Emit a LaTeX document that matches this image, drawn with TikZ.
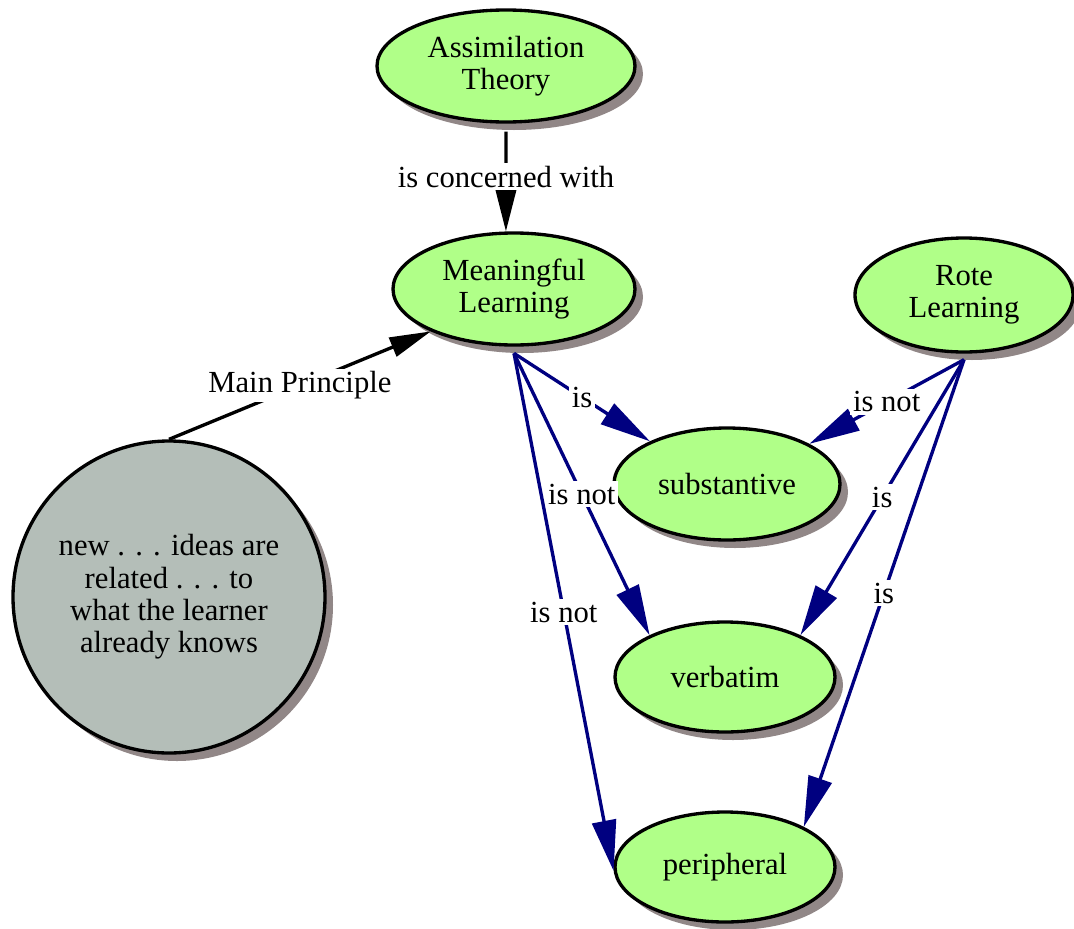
\documentclass[tikz,border=0pt]{standalone}
\usepackage{fontspec}
\setmainfont{Liberation Serif}
\usetikzlibrary{shapes.geometric,shadows,arrows.meta}
\definecolor{conceptgreen}{RGB}{176,255,136}
\definecolor{ideagray}{RGB}{180,190,184}
\definecolor{shadowgray}{RGB}{145,135,135}
\definecolor{linknavy}{RGB}{0,0,128}
\begin{document}
\begin{tikzpicture}[x=0.75pt, y=-0.75pt,
        every node/.style={font=\fontsize{23}{24.2}\selectfont},
        concept/.style={ellipse, draw, line width=2.5pt, fill=conceptgreen, align=center, inner sep=0pt,
            drop shadow={shadow xshift=6pt, shadow yshift=-6pt, fill=shadowgray, opacity=1}},
        idea/.style={circle, draw, line width=2.5pt, fill=ideagray, align=center, inner sep=0pt,
            minimum size=234pt,
            drop shadow={shadow xshift=6pt, shadow yshift=-6pt, fill=shadowgray, opacity=1}},
        mainlink/.style={line width=2.5pt, -{Triangle[length=31pt, width=15pt]}},
        link/.style={line width=2.5pt, draw=linknavy, -{Triangle[length=38pt, width=18pt]}, fill=linknavy},
        linklabel/.style={fill=white, inner sep=2pt}]
        \useasboundingbox (0, 0) rectangle (1074, 928);
        \node[concept, minimum width=193.5pt, minimum height=84pt] (at) at (506, 66) {Assimilation\\Theory};
        \node[concept, minimum width=181.5pt, minimum height=84pt] (ml) at (514, 289) {Meaningful\\Learning};
        \node[concept, minimum width=163.5pt, minimum height=85.5pt] (rl) at (964, 295) {Rote\\Learning};
        \node[concept, minimum width=169.5pt, minimum height=84pt] (sub) at (727, 484) {substantive};
        \node[concept, minimum width=165pt, minimum height=82.5pt] (verb) at (725, 677) {verbatim};
        \node[concept, minimum width=165pt, minimum height=82.5pt] (peri) at (725, 867) {peripheral};
        \node[idea] (new) at (169, 597) {new . . . ideas are\\related . . . to\\what the learner\\already knows};
        \draw[mainlink] ([yshift=-6pt]at.south) -- node[pos=0.45, linklabel] {is concerned with} (ml.98);
        \draw[mainlink] (new.north) -- node[midway, linklabel] {Main Principle} (ml.207);
        \draw[link] ([yshift=-5pt]ml.south) -- node[midway, linklabel] {is} (sub.151);
        \draw[link] ([yshift=-5pt]ml.south) -- node[midway, linklabel] {is not} (verb.151);
        \draw[link] ([yshift=-5pt]ml.south) -- node[midway, linklabel] {is not} (peri.182);
        \draw[link] ([yshift=-4.5pt]rl.south) -- node[midway, linklabel] {is not} (sub.26);
        \draw[link] ([yshift=-4.5pt]rl.south) -- node[midway, linklabel] {is} (verb.29);
        \draw[link] ([yshift=-4.5pt]rl.south) -- node[midway, linklabel] {is} (peri.27);
    \end{tikzpicture}
\end{document}
